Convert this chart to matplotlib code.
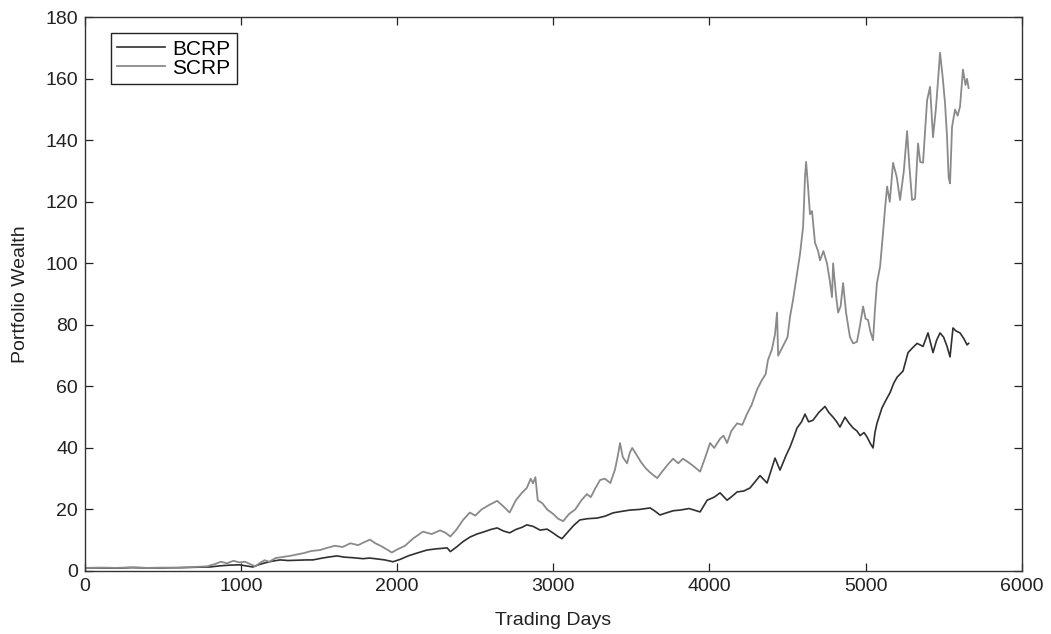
import matplotlib
matplotlib.use("Agg")
import matplotlib.pyplot as plt

# portfolio wealth, sampled by trading day
scrp_days = [0, 100, 200, 300, 400, 500, 600, 700, 780, 830, 870, 910, 950, 990,
             1025, 1060, 1090, 1120, 1150, 1180, 1220, 1260, 1313, 1360, 1400, 1450,
             1505, 1550, 1600, 1650, 1700, 1750, 1790, 1825, 1860, 1900, 1940, 1965,
             2000, 2050, 2100, 2165, 2220, 2275, 2310, 2340, 2380, 2420, 2465, 2500,
             2540, 2590, 2640, 2680, 2720, 2760, 2800, 2830, 2855, 2870, 2885, 2900,
             2930, 2960, 3000, 3030, 3063, 3100, 3140, 3180, 3215, 3240, 3270, 3300,
             3330, 3365, 3395, 3415, 3427, 3445, 3472, 3490, 3505, 3530, 3560, 3590,
             3620, 3665, 3700, 3740, 3767, 3800, 3830, 3860, 3900, 3940, 3970, 4004,
             4030, 4068, 4090, 4113, 4140, 4177, 4210, 4240, 4270, 4305, 4335, 4360,
             4375, 4400, 4420, 4433, 4440, 4460, 4480, 4500, 4516, 4535, 4548, 4565,
             4580, 4600, 4612, 4619, 4630, 4644, 4657, 4676, 4696, 4708, 4730, 4753,
             4772, 4785, 4792, 4810, 4824, 4840, 4856, 4875, 4900, 4920, 4945, 4965,
             4984, 5000, 5016, 5030, 5048, 5060, 5073, 5093, 5112, 5125, 5138, 5155,
             5176, 5200, 5221, 5245, 5266, 5280, 5298, 5317, 5336, 5350, 5368, 5380,
             5394, 5413, 5432, 5450, 5465, 5477, 5495, 5509, 5522, 5532, 5541, 5554,
             5573, 5590, 5605, 5624, 5640, 5650, 5660]
scrp_vals = [1.0, 1.1, 1.0, 1.2, 1.0, 1.1, 1.0, 1.3, 1.5, 2.2, 3.0, 2.5, 3.3, 2.8,
             3.0, 2.2, 1.5, 2.6, 3.5, 3.0, 4.2, 4.5, 4.9, 5.4, 5.8, 6.5,
             6.8, 7.5, 8.2, 7.8, 9.0, 8.4, 9.4, 10.2, 9.0, 8.0, 6.8, 6.0,
             7.0, 8.2, 10.5, 12.8, 12.0, 13.2, 12.4, 11.2, 13.5, 16.5, 19.0, 18.0,
             20.0, 21.5, 22.8, 21.0, 19.0, 23.0, 25.5, 27.0, 30.0, 28.5, 30.5, 23.0,
             22.0, 20.0, 18.5, 17.0, 16.2, 18.5, 20.0, 23.0, 25.0, 24.0, 27.0, 29.6,
             30.0, 28.6, 33.0, 38.0, 41.6, 37.0, 35.0, 38.5, 40.0, 38.0, 35.5, 33.5,
             32.0, 30.2, 32.5, 35.0, 36.5, 35.0, 36.5, 35.5, 34.0, 32.3, 36.5, 41.6,
             40.0, 43.0, 44.0, 41.6, 45.5, 48.0, 47.5, 51.0, 54.0, 59.0, 62.0, 64.0,
             68.6, 72.0, 77.0, 84.0, 70.0, 72.0, 74.0, 76.0, 82.6, 88.0, 92.4, 98.0,
             103.0, 112.0, 128.0, 133.0, 126.0, 116.0, 117.0, 106.7, 104.0, 101.0, 104.0, 100.0,
             94.0, 89.0, 100.0, 90.0, 84.0, 86.0, 93.6, 84.0, 76.0, 74.0, 74.5, 80.0,
             86.0, 82.0, 81.6, 78.0, 75.0, 85.0, 93.6, 99.0, 110.0, 118.0, 125.0, 120.0,
             132.7, 128.0, 120.6, 130.0, 143.0, 132.0, 120.6, 121.0, 139.0, 133.0, 132.7, 142.0,
             153.0, 157.4, 141.0, 150.0, 160.0, 168.5, 160.0, 152.0, 141.0, 128.0, 126.0, 144.4,
             150.0, 148.0, 151.0, 163.0, 158.0, 160.0, 157.0]

bcrp_days = [0, 100, 200, 300, 400, 500, 600, 700, 800, 870, 930, 990, 1040, 1075,
             1110, 1150, 1200, 1250, 1300, 1360, 1420, 1460, 1520, 1570, 1615, 1660,
             1720, 1780, 1825, 1870, 1920, 1973, 2020, 2070, 2125, 2190, 2250, 2320,
             2340, 2380, 2420, 2465, 2510, 2560, 2600, 2640, 2680, 2720, 2760, 2800,
             2830, 2870, 2915, 2960, 3000, 3030, 3055, 3090, 3130, 3170, 3220, 3280,
             3330, 3383, 3440, 3490, 3550, 3620, 3650, 3683, 3730, 3770, 3812, 3870,
             3940, 3985, 4030, 4068, 4113, 4150, 4177, 4220, 4260, 4300, 4324, 4369,
             4400, 4420, 4452, 4490, 4516, 4540, 4561, 4590, 4612, 4635, 4663, 4700,
             4740, 4765, 4792, 4815, 4836, 4868, 4895, 4920, 4945, 4965, 4990, 5009,
             5030, 5048, 5060, 5073, 5105, 5130, 5157, 5180, 5202, 5240, 5272, 5300,
             5330, 5368, 5400, 5432, 5455, 5477, 5500, 5522, 5541, 5560, 5580, 5605,
             5630, 5650, 5660]
bcrp_vals = [1.0, 1.0, 0.9, 1.1, 1.0, 1.0, 1.1, 1.2, 1.3, 1.7, 1.9, 2.0, 1.6, 1.3,
             2.0, 2.6, 3.2, 3.6, 3.4, 3.5, 3.6, 3.6, 4.2, 4.6, 4.9, 4.5,
             4.3, 4.0, 4.2, 3.9, 3.6, 3.0, 3.8, 4.9, 5.8, 6.8, 7.2, 7.5,
             6.3, 7.8, 9.5, 11.0, 12.0, 12.8, 13.5, 14.0, 13.0, 12.4, 13.5, 14.2,
             15.0, 14.5, 13.3, 13.6, 12.3, 11.2, 10.5, 12.5, 14.8, 16.6, 17.0, 17.2,
             17.8, 18.9, 19.4, 19.8, 20.0, 20.5, 19.5, 18.2, 19.0, 19.6, 19.8, 20.3,
             19.2, 23.0, 24.0, 25.4, 23.0, 24.5, 25.7, 26.0, 27.0, 29.5, 31.0, 28.6,
             33.5, 36.7, 32.8, 37.5, 40.3, 43.5, 46.5, 48.5, 51.0, 48.5, 49.0, 51.5,
             53.5, 51.5, 50.0, 48.5, 46.8, 50.0, 48.0, 46.5, 45.5, 44.0, 45.0, 43.6,
             41.5, 40.0, 45.0, 48.0, 53.0, 55.5, 58.0, 61.0, 63.0, 65.0, 71.0, 72.5,
             74.0, 73.0, 77.4, 71.0, 75.0, 77.4, 76.0, 73.0, 69.6, 79.0, 78.0, 77.4,
             75.5, 73.5, 74.0]

x_ticks = [0, 1000, 2000, 3000, 4000, 5000, 6000]
y_ticks = [0, 20, 40, 60, 80, 100, 120, 140, 160, 180]

plt.rcParams['font.family'] = ['Liberation Sans', 'DejaVu Sans']

fig = plt.figure(figsize=(10.51, 6.34), dpi=100)
ax = fig.add_axes([0.0809, 0.0994, 0.8912, 0.8733])

ax.plot(bcrp_days, bcrp_vals, color='#303030', linewidth=1.2, label='BCRP')
ax.plot(scrp_days, scrp_vals, color='#8a8a8a', linewidth=1.3, label='SCRP')

ax.set_xlim(0, 6000)
ax.set_ylim(0, 180)
ax.set_xticks(x_ticks)
ax.set_yticks(y_ticks)
ax.tick_params(direction='in', length=5.5, width=0.9, top=True, right=True,
               labelsize=14, colors='#222222', pad=5)
for s in ax.spines.values():
    s.set_linewidth(1.0)
    s.set_color('#333333')

ax.set_xlabel('Trading Days', fontsize=14, color='#222222', labelpad=12)
ax.set_ylabel('Portfolio Wealth', fontsize=14, color='#222222', labelpad=12)

leg = ax.legend(loc='upper left', bbox_to_anchor=(0.0278, 0.971), borderaxespad=0,
                fontsize=15, fancybox=False, edgecolor='#222222', framealpha=1,
                handlelength=2.3, handletextpad=0.35, labelspacing=0.0,
                borderpad=0.3)
leg.get_frame().set_linewidth(1.0)

fig.savefig('out.png', dpi=100)
